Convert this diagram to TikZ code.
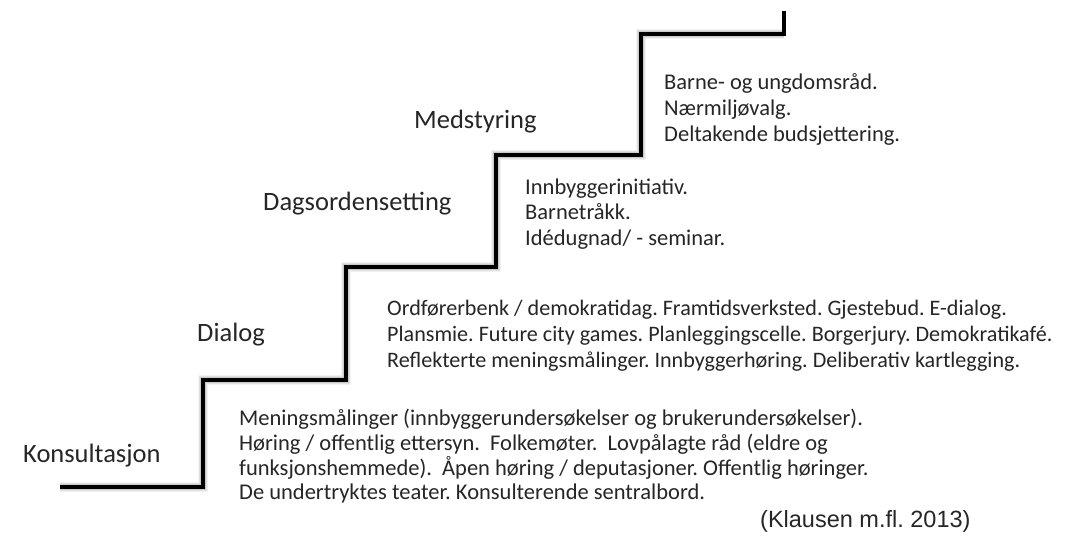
\documentclass[tikz,border=0pt]{standalone}
\usepackage{fontspec}
\setmainfont{Carlito}
\newfontfamily\citefont{Liberation Sans}
\definecolor{txt}{RGB}{38,38,38}
\frenchspacing
\begin{document}
\begin{tikzpicture}[x=1pt,y=-1pt,
  stagelabel/.style={font=\fontsize{26.5}{30}\selectfont, text=txt, anchor=base west, inner sep=0pt},
  itemline/.style={font=\fontsize{22.5}{27}\selectfont, text=txt, anchor=base west, inner sep=0pt},
  dialogline/.style={itemline, font=\fontsize{22.1}{27}\selectfont},
  stair/.style={line width=4pt, line join=miter, black}]
\useasboundingbox (0,0) rectangle (1078,538);
\fill[white] (0,0) rectangle (1078,538);
% stair corners
\coordinate (s0) at (60,487);
\coordinate (s1) at (203,487);
\coordinate (s2) at (203,380);
\coordinate (s3) at (346,380);
\coordinate (s4) at (346,267);
\coordinate (s5) at (496,267);
\coordinate (s6) at (496,155);
\coordinate (s7) at (641,155);
\coordinate (s8) at (641,34);
\coordinate (s9) at (784,34);
\coordinate (s10) at (784,11);
% shadow
\foreach \w/\o in {10/0.05,8/0.07,6/0.09}{
  \draw[line width=\w pt, black, opacity=\o, line join=miter, shift={(2,5)}]
    (s0) -- (s1) -- (s2) -- (s3) -- (s4) -- (s5) -- (s6) -- (s7) -- (s8) -- (s9);
}
\draw[stair] (s0) -- (s1) -- (s2) -- (s3) -- (s4) -- (s5) -- (s6) -- (s7) -- (s8) -- (s9) -- (s10);
% stage labels
\node[stagelabel] (konsultasjon) at (23,462) {Konsultasjon};
\node[stagelabel] (dialog) at (197,341) {Dialog};
\node[stagelabel] (dagsorden) at (263,210) {Dagsordensetting};
\node[stagelabel] (medstyring) at (414,128) {Medstyring};
% Medstyring items
\node[itemline] (m1) at (664,89) {Barne- og ungdomsråd.};
\node[itemline] (m2) at (664,115) {Nærmiljøvalg.};
\node[itemline] (m3) at (664,141) {Deltakende budsjettering.};
% Dagsordensetting items
\node[itemline] (d1) at (525,194) {Innbyggerinitiativ.};
\node[itemline] (d2) at (525,219.5) {Barnetråkk.};
\node[itemline] (d3) at (525,245) {Idédugnad/ - seminar.};
% Dialog items
\node[dialogline] (g1) at (387,315) {Ordførerbenk / demokratidag. Framtidsverksted. Gjestebud. E-dialog.};
\node[dialogline] (g2) at (387,341) {Plansmie. Future city games. Planleggingscelle. Borgerjury. Demokratikafé.};
\node[dialogline] (g3) at (387,367) {Reflekterte meningsmålinger. Innbyggerhøring. Deliberativ kartlegging.};
% Konsultasjon items
\node[itemline] (k1) at (239,425) {Meningsmålinger (innbyggerundersøkelser og brukerundersøkelser).};
\node[itemline] (k2) at (239,450) {Høring / offentlig ettersyn.\ \ Folkemøter.\ \ Lovpålagte råd (eldre og};
\node[itemline] (k3) at (239,475) {funksjonshemmede).\ \ Åpen høring / deputasjoner. Offentlig høringer.};
\node[itemline] (k4) at (239,499) {De undertryktes teater. Konsulterende sentralbord.};
% citation
\node[anchor=base west, inner sep=0pt, font=\citefont\fontsize{23.5}{28}\selectfont, text=txt] (cite) at (760,527) {(Klausen m.fl. 2013)};
\end{tikzpicture}
\end{document}
